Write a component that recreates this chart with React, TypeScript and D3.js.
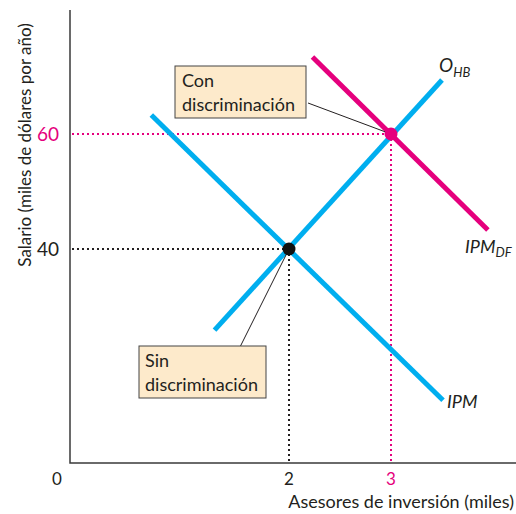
import React from "react";
import * as d3 from "d3";

// Data (x: thousands of investment advisors, y: salary, thousands $/yr)
const ipm: [number, number][] = [[0.65, 63.3], [3.51, 13.7]];
const ohb: [number, number][] = [[1.27, 25.9], [3.5, 69.4]];
const ipmDF: [number, number][] = [[2.23, 73.4], [3.95, 43.3]];
const eqNoDisc = { x: 2, y: 40 };
const eqDisc = { x: 3, y: 60 };
const xTicks = [2, 3];
const yTicks = [40, 60];

const W = 516;
const H = 514;
const BLUE = "#00AEEF";
const MAG = "#E5007D";
const INK = "#231F20";
const FONT = "Lato, 'Open Sans', sans-serif";

export default function App() {
  const x = d3.scaleLinear().domain([2, 3]).range([289, 391]);
  const y = d3.scaleLinear().domain([40, 60]).range([249, 134]);
  const ox = 70;
  const oy = 463;
  const line = d3
    .line<[number, number]>()
    .x((d) => x(d[0]))
    .y((d) => y(d[1]));

  const tickColor = (v: number, isX: boolean) =>
    (isX ? v === 3 : v === 60) ? MAG : INK;

  return (
    <svg
      width={W}
      height={H}
      style={{ position: "absolute", left: 0, top: 0 }}
      fontFamily={FONT}
    >
      <rect width={W} height={H} fill="#fff" />
      {/* dotted guides */}
      {[eqNoDisc, eqDisc].map((p, i) => (
        <g key={i} stroke={i === 0 ? INK : MAG} strokeWidth={2} strokeDasharray="2 3">
          <line x1={ox + 2} x2={x(p.x)} y1={y(p.y)} y2={y(p.y)} />
          <line x1={x(p.x)} x2={x(p.x)} y1={y(p.y)} y2={oy} />
        </g>
      ))}
      {/* axes */}
      <path d={`M${ox},10V${oy}H${W}`} fill="none" stroke="#3a3a3a" strokeWidth={1.5} />
      {/* curves */}
      <path d={line(ipm) || ""} stroke={BLUE} strokeWidth={5} fill="none" />
      <path d={line(ohb) || ""} stroke={BLUE} strokeWidth={5} fill="none" />
      <path d={line(ipmDF) || ""} stroke={MAG} strokeWidth={5} fill="none" />
      {/* leader lines */}
      <line x1={308} y1={103} x2={x(eqDisc.x)} y2={y(eqDisc.y)} stroke={INK} strokeWidth={1} />
      <line x1={240} y1={347} x2={x(eqNoDisc.x)} y2={y(eqNoDisc.y)} stroke={INK} strokeWidth={1} />
      {/* points */}
      <circle cx={x(eqNoDisc.x)} cy={y(eqNoDisc.y)} r={6.5} fill="#111" />
      <circle cx={x(eqDisc.x)} cy={y(eqDisc.y)} r={6.5} fill={MAG} />
      {/* boxes */}
      <g fontSize={18} fill={INK}>
        <rect x={175} y={66} width={131} height={52} fill="#FDEACB" stroke="#444" strokeWidth={1} />
        <text x={182} y={87} fill={INK}>Con</text>
        <text x={182} y={111} fill={INK}>discriminación</text>
        <rect x={139} y={346} width={127} height={52} fill="#FDEACB" stroke="#444" strokeWidth={1} />
        <text x={145} y={367} fill={INK}>Sin</text>
        <text x={145} y={391} fill={INK}>discriminación</text>
      </g>
      {/* ticks */}
      <g>
        {xTicks.map((v) => (
          <text key={v} x={x(v)} y={485} fontSize={17} textAnchor="middle" fill={tickColor(v, true)}>
            {v}
          </text>
        ))}
        {yTicks.map((v) => (
          <text key={v} x={59} y={y(v) + 7} fontSize={19} textAnchor="end" fill={tickColor(v, false)}>
            {v}
          </text>
        ))}
        <text x={57} y={485} fontSize={17} textAnchor="middle" fill={INK}>0</text>
      </g>
      {/* axis titles */}
      <text x={514} y={508} textAnchor="end" fontSize={18} fill={INK}>
        Asesores de inversión (miles)
      </text>
      <text
        transform="translate(31,145) rotate(-90)"
        textAnchor="middle"
        fontSize={17}
        fill={INK}
      >
        Salario (miles de dólares por año)
      </text>
      {/* curve labels */}
      <g fontStyle="italic" fill={INK}>
        <text x={439} y={72} fontSize={19}>
          O<tspan fontSize={13} dy={5}>HB</tspan>
        </text>
        <text x={465} y={253} fontSize={18}>
          IPM<tspan fontSize={13} dy={4}>DF</tspan>
        </text>
        <text x={447} y={408} fontSize={18}>IPM</text>
      </g>
    </svg>
  );
}
